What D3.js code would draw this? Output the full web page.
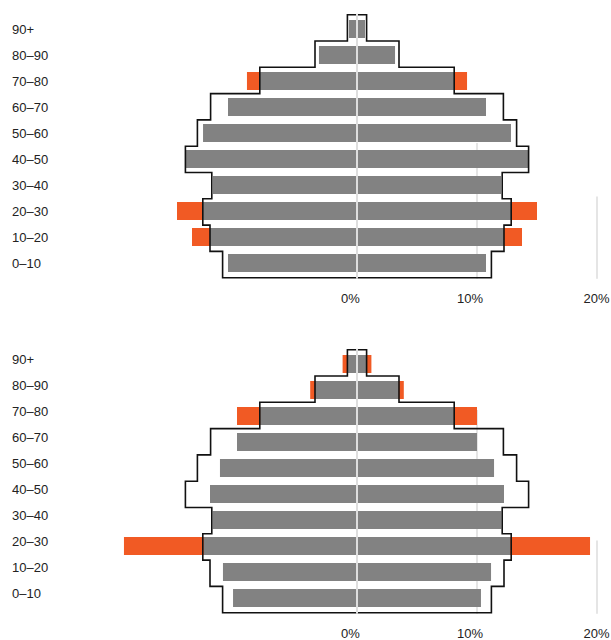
<!DOCTYPE html>
<html>
<head>
<meta charset="utf-8">
<script src="https://cdn.jsdelivr.net/npm/d3@7"></script>
<style>
  body { margin: 0; background: #fff; }
  text { font-family: 'Liberation Sans', Arial, sans-serif; fill: #222; }
</style>
</head>
<body>
<div id="chart"></div>
<script>
// age groups, bottom to top
const ageGroups = ['0–10', '10–20', '20–30', '30–40', '40–50', '50–60', '60–70', '70–80', '80–90', '90+']

// reference population (black outline), % per side
const referenceShare = [11.2, 12.25, 12.85, 12.1, 14.3, 13.3, 12.2, 8.1, 3.5, 0.8]

// upper pyramid
const topShare = [10.75, 12.25, 12.85, 12.0, 14.25, 12.83, 10.75, 8.15, 3.17, 0.67]
const topHighlight = [null, 13.75, 15.0, null, null, null, null, 9.17, null, null]

// lower pyramid
const bottomShare = [10.33, 11.17, 12.78, 12.03, 12.25, 11.42, 10.0, 8.07, 3.48, 0.8]
const bottomHighlight = [null, null, 19.42, null, null, null, null, 10.0, 3.9, 1.2]

const tickValues = [0, 10, 20]
const tickLabels = ['0%', '10%', '20%']

const width = 611
const height = 640
const center = 357

const svg = d3.select('#chart')
  .append('svg')
  .attr('width', width)
  .attr('height', height)

const xR = d3.scaleLinear().domain([0, 20]).range([center, center + 240])
const xL = d3.scaleLinear().domain([0, 20]).range([center, center - 240])

// rows top to bottom
const order = ageGroups.slice().reverse()
const y = d3.scaleBand()
  .domain(order)
  .range([16, 276])
  .paddingInner(8 / 26)
  .paddingOuter(4 / 26)
const outlineY = d3.scaleLinear().domain([0, ageGroups.length]).range([14.7, 277.7])

function drawPyramid(offsetY, share, highlight, opts) {
  const g = svg.append('g').attr('transform', `translate(0, ${offsetY})`)
  const rows = ageGroups.map((age, i) => ({
    age,
    value: share[i],
    hi: highlight[i],
    ref: referenceShare[i]
  }))

  // partial gridlines
  g.append('g')
    .selectAll('line')
    .data(opts.grid)
    .join('line')
    .attr('x1', d => xR(d.value))
    .attr('x2', d => xR(d.value))
    .attr('y1', d => d.from)
    .attr('y2', outlineY(ageGroups.length) + 1)
    .attr('stroke', '#dcdcdc')
    .attr('stroke-width', 1.5)

  // highlight bars behind
  const hiRows = rows.filter(d => d.hi != null)
  g.append('g')
    .selectAll('rect')
    .data(hiRows)
    .join('rect')
    .attr('x', d => xL(d.hi))
    .attr('y', d => y(d.age))
    .attr('width', d => xR(d.hi) - xL(d.hi))
    .attr('height', y.bandwidth())
    .attr('fill', '#f15a24')

  g.append('g')
    .selectAll('rect')
    .data(rows)
    .join('rect')
    .attr('x', d => xL(d.value))
    .attr('y', d => y(d.age))
    .attr('width', d => xR(d.value) - xL(d.value))
    .attr('height', y.bandwidth())
    .attr('fill', '#828282')

  // stepped outline of reference population
  const pts = []
  order.forEach((age, k) => {
    const v = referenceShare[ageGroups.indexOf(age)]
    pts.push([xR(v), outlineY(k)], [xR(v), outlineY(k + 1)])
  })
  for (let k = order.length - 1; k >= 0; k--) {
    const v = referenceShare[ageGroups.indexOf(order[k])]
    pts.push([xL(v), outlineY(k + 1)], [xL(v), outlineY(k)])
  }
  g.append('path')
    .attr('d', d3.line()(pts) + 'Z')
    .attr('fill', 'none')
    .attr('stroke', '#111')
    .attr('stroke-width', 1.6)

  // center line
  g.append('line')
    .attr('x1', center)
    .attr('x2', center)
    .attr('y1', outlineY(0) - 1)
    .attr('y2', outlineY(ageGroups.length) + 1)
    .attr('stroke', '#dedede')
    .attr('stroke-width', 2)

  // age labels
  g.append('g')
    .selectAll('text')
    .data(rows)
    .join('text')
    .attr('x', 12)
    .attr('y', d => y(d.age) + y.bandwidth() / 2 + 4.5 + opts.labelDy)
    .attr('font-size', 13)
    .text(d => d.age)

  // axis labels
  const labelShift = [-6.5, -7, -0.5]
  g.append('g')
    .selectAll('text')
    .data(tickValues)
    .join('text')
    .attr('x', (d, i) => xR(d) + labelShift[i])
    .attr('y', 303)
    .attr('text-anchor', 'middle')
    .attr('font-size', 13)
    .text((d, i) => tickLabels[i])
}

drawPyramid(0, topShare, topHighlight, {
  labelDy: 0,
  grid: [{ value: 10, from: 143 }, { value: 20, from: 196.5 }]
})
drawPyramid(335, bottomShare, bottomHighlight, {
  labelDy: -4.5,
  grid: [{ value: 10, from: 75 }, { value: 20, from: 205.5 }]
})
</script>
</body>
</html>
